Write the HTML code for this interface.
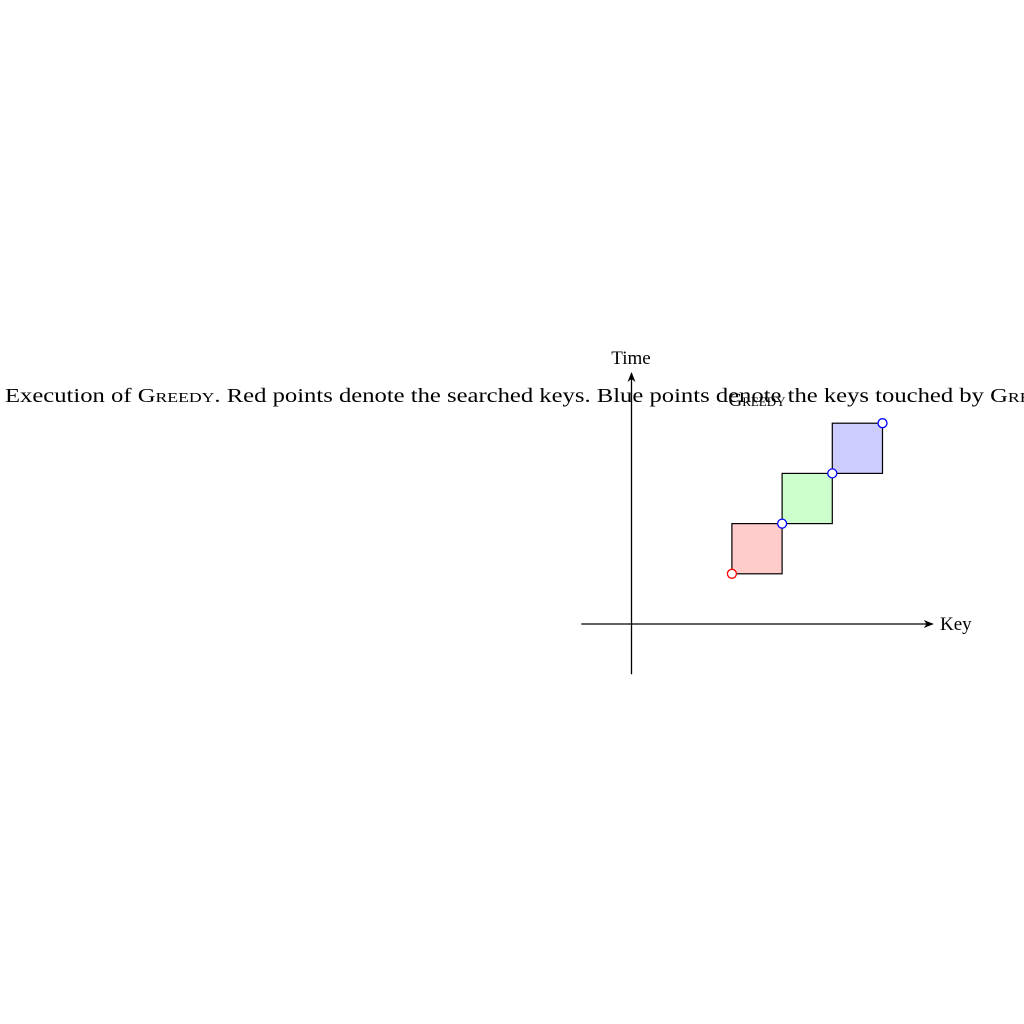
<!DOCTYPE html>
<html><head><meta charset="utf-8"><style>
html,body{margin:0;padding:0;background:#fff;width:1024px;height:1024px;overflow:hidden}
svg{display:block}
text{font-family:"Liberation Serif",serif;fill:#000}
</style></head><body>
<svg id="chart" width="1024" height="1024" viewBox="0 0 1024 1024">
<defs><marker id="arr" markerWidth="10" markerHeight="8" refX="9" refY="4" orient="auto" markerUnits="userSpaceOnUse"><path d="M0,0 L10,4 L0,8 L3,4 Z" fill="#000"/></marker></defs>
<g id="plot"></g>
<text x="5" y="402" font-size="19.5" textLength="1068" lengthAdjust="spacingAndGlyphs">Execution of <tspan font-variant="small-caps">Greedy</tspan>. Red points denote the searched keys. Blue points denote the keys touched by <tspan font-variant="small-caps">Greedy</tspan>.</text>
<text x="757" y="406" font-size="19" text-anchor="middle" font-variant="small-caps">Greedy</text>
<text x="631" y="364" font-size="19" text-anchor="middle">Time</text>
<text x="940" y="630" font-size="19">Key</text>
</svg>
<script>
const boxX=[2,3,4];
const boxY=[1,2,3];
const boxColors=["#ffcccc","#ccffcc","#ccccff"];
const pointX=[2,3,4,5];
const pointY=[1,2,3,4];
const pointColors=["red","blue","blue","blue"];
const ox=631.5, oy=624, u=50.2;
const sx=v=>ox+v*u, sy=v=>oy-v*u;
const g=document.getElementById('plot');
const NS="http://www.w3.org/2000/svg";
function mk(t,a){const e=document.createElementNS(NS,t);for(const k in a)e.setAttribute(k,a[k]);g.appendChild(e);return e;}
let ax=mk('line',{x1:sx(-1),y1:oy,x2:sx(6),y2:oy,stroke:'#000','stroke-width':1.3,'marker-end':'url(#arr)'});


let ay=mk('line',{x1:ox,y1:sy(-1),x2:ox,y2:sy(5),stroke:'#000','stroke-width':1.3,'marker-end':'url(#arr)'});


boxX.forEach((x,i)=>{
 const r=mk('rect',{x:sx(x),y:sy(boxY[i]+1),width:sx(x+1)-sx(x),height:sy(boxY[i])-sy(boxY[i]+1),fill:boxColors[i],stroke:'#000','stroke-width':1.2});
 
 
});
pointX.forEach((x,i)=>{
 const c=mk('circle',{cx:sx(x),cy:sy(pointY[i]),r:4.5,fill:'#fff',stroke:pointColors[i],'stroke-width':1.3});
 
 
});
</script>
</body></html>
